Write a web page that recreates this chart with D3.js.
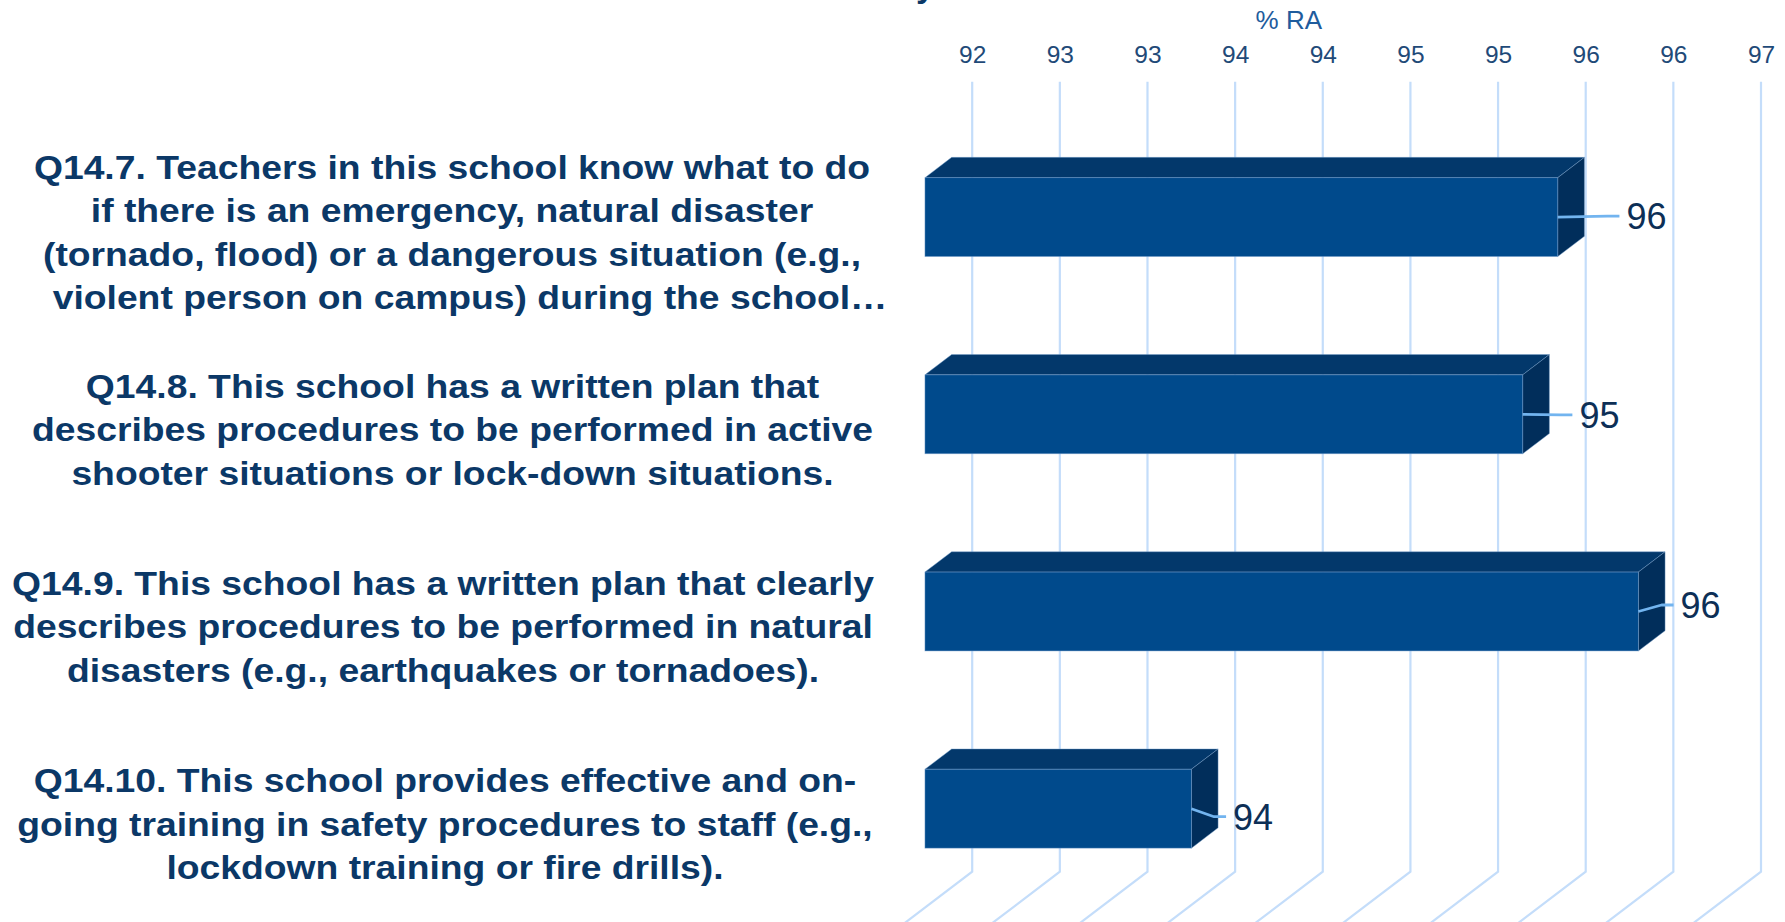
<!DOCTYPE html>
<html>
<head>
<meta charset="utf-8">
<script src="https://cdn.jsdelivr.net/npm/d3@7"></script>
<style>
  html, body { margin: 0; padding: 0; background: #ffffff; overflow: hidden; }
  svg { display: block; }
</style>
</head>
<body>
<svg id="chart" width="1785" height="922"></svg>
<script>
// ---- data ---------------------------------------------------------------
const categories = ["Q14.7", "Q14.8", "Q14.9", "Q14.10"];

// Item wording, wrapped into the lines shown beside each bar
const categoryText = [
  ["Q14.7. Teachers in this school know what to do",
   "if there is an emergency, natural disaster",
   "(tornado, flood) or a dangerous situation (e.g.,",
   "violent person on campus) during the school\u2026"],
  ["Q14.8. This school has a written plan that",
   "describes procedures to be performed in active",
   "shooter situations or lock-down situations."],
  ["Q14.9. This school has a written plan that clearly",
   "describes procedures to be performed in natural",
   "disasters (e.g., earthquakes or tornadoes)."],
  ["Q14.10. This school provides effective and on-",
   "going training in safety procedures to staff (e.g.,",
   "lockdown training or fire drills)."]
];

// Percent of respondents agreeing (% RA)
const values = [95.61, 95.41, 96.07, 93.52];

// Value axis
const tickValues = [92, 92.5, 93, 93.5, 94, 94.5, 95, 95.5, 96, 96.5];
const tickLabels = ["92", "93", "93", "94", "94", "95", "95", "96", "96", "97"];
const axisTitle = "% RA";

// ---- layout -------------------------------------------------------------
const W = 1785, H = 922;
const wall = { left: 972.2, right: 1761, top: 81.7, bottom: 871.7 };
const depth = { dx: 26.7, dy: -20.3 };   // one bar depth, oblique projection
const frontShift = 1.77;                 // bar front faces sit this many depths in front of the wall

// per-bar label placement: offset from the bar's back-right corner / face middle
const labelNudge = [
  { dx: 42, dy: -1 },
  { dx: 30, dy: 0.5 },
  { dx: 15.5, dy: -6.5 },
  { dx: 15, dy: 8 }
];
const labelCenterX = [452, 452.5, 443, 445];
const lineShift = [[0, 0, 0, 18], [0, 0, 0], [0, 0, 0], [0, 0, 0]];

const colors = {
  front: "#004a8c",
  top: "#03386b",
  side: "#012e5b",
  edge: "rgba(120,160,205,0.55)",
  grid: "#c4ddfa",
  leader: "#72b4ef",
  category: "#0b3867",
  tick: "#1f4a78",
  title: "#1f5c9d",
  value: "#0d2f56"
};
const fontFamily = "'Liberation Sans', Arial, Helvetica, sans-serif";

// ---- scales -------------------------------------------------------------
const x = d3.scaleLinear().domain([92, 96.5]).range([wall.left, wall.right]);
const y = d3.scaleBand()
  .domain(categories)
  .range([118.5, 907.3])
  .paddingInner(0.6)
  .paddingOuter(0.3);

const svg = d3.select("#chart");

// Chart title, running off the top edge
svg.append("text")
  .attr("x", 916).attr("y", -3)
  .attr("font-family", fontFamily).attr("font-weight", "bold")
  .attr("font-size", 34).attr("fill", colors.category)
  .text("y");

// ---- back wall gridlines and floor -------------------------------------
const fx = -frontShift * depth.dx; // shift wall -> bar front plane
const grid = svg.append("g").attr("class", "grid");
grid.selectAll("path")
  .data(tickValues)
  .join("path")
  .attr("d", t => {
    const gx = x(t);
    const p = d3.path();
    p.moveTo(gx, wall.top);
    p.lineTo(gx, wall.bottom);
    p.lineTo(gx - 4 * depth.dx, wall.bottom - 4 * depth.dy);
    return p.toString();
  })
  .attr("fill", "none")
  .attr("stroke", colors.grid)
  .attr("stroke-width", 2.2);

// ---- value axis (top) ---------------------------------------------------
const axis = d3.axisTop(x)
  .tickValues(tickValues)
  .tickSize(0)
  .tickPadding(0)
  .tickFormat((d, i) => tickLabels[i]);

const axisG = svg.append("g").attr("transform", "translate(0,63.3)").call(axis);
axisG.select(".domain").remove();
axisG.selectAll("text")
  .attr("dy", 0).attr("y", 0)
  .attr("font-family", fontFamily)
  .attr("font-size", 24.5)
  .attr("fill", colors.tick);

svg.append("text")
  .attr("x", 1288.8).attr("y", 29.3)
  .attr("text-anchor", "middle")
  .attr("font-family", fontFamily)
  .attr("font-size", 26)
  .attr("fill", colors.title)
  .text(axisTitle);

// ---- 3D bars ------------------------------------------------------------
const bars = svg.append("g").attr("class", "bars");
const rows = categories.map((c, i) => {
  const x0 = x(92) + fx;
  const x1 = x(values[i]) + fx;
  const y0 = y(c);
  const y1 = y0 + y.bandwidth();
  return { c, i, v: values[i], x0, x1, y0, y1 };
});

const poly = pts => "M" + pts.map(p => p.join(",")).join("L") + "Z";

const bar = bars.selectAll("g").data(rows).join("g");
bar.append("path") // top face
  .attr("d", r => poly([[r.x0, r.y0], [r.x1, r.y0], [r.x1 + depth.dx, r.y0 + depth.dy], [r.x0 + depth.dx, r.y0 + depth.dy]]))
  .attr("fill", colors.top)
  .attr("stroke", colors.edge).attr("stroke-width", 0.8);
bar.append("path") // end face
  .attr("d", r => poly([[r.x1, r.y0], [r.x1 + depth.dx, r.y0 + depth.dy], [r.x1 + depth.dx, r.y1 + depth.dy], [r.x1, r.y1]]))
  .attr("fill", colors.side)
  .attr("stroke", colors.edge).attr("stroke-width", 0.8);
bar.append("rect") // front face
  .attr("x", r => r.x0).attr("y", r => r.y0)
  .attr("width", r => r.x1 - r.x0).attr("height", r => r.y1 - r.y0)
  .attr("fill", colors.front)
  .attr("stroke", colors.edge).attr("stroke-width", 0.8);

// ---- data labels with leader lines -------------------------------------
const fmt = d3.format(".0f");
const labels = svg.append("g").attr("class", "labels");
rows.forEach(r => {
  const mid = (r.y0 + r.y1) / 2;
  const lx = r.x1 + depth.dx + labelNudge[r.i].dx;
  const ly = mid + labelNudge[r.i].dy;
  labels.append("path")
    .attr("d", poly([[r.x1, mid], [lx - 19, ly], [lx - 7, ly]]).replace("Z", ""))
    .attr("fill", "none")
    .attr("stroke", colors.leader)
    .attr("stroke-width", 2.8)
    .attr("stroke-linejoin", "round");
  labels.append("text")
    .attr("x", lx).attr("y", ly + 13)
    .attr("font-family", fontFamily)
    .attr("font-size", 36)
    .attr("fill", colors.value)
    .text(fmt(r.v));
});

// ---- category labels ----------------------------------------------------
const lineGap = 43.3;
const sx = 1.113;
const cats = svg.append("g").attr("class", "categories");
rows.forEach(r => {
  const lines = categoryText[r.i];
  const mid = (r.y0 + r.y1) / 2 + 27;
  const g = cats.append("g")
    .attr("transform", `translate(${labelCenterX[r.i]},0) scale(${sx},1)`);
  lines.forEach((t, k) => {
    g.append("text")
      .attr("x", lineShift[r.i][k] / sx)
      .attr("y", mid + (k - (lines.length - 1) / 2) * lineGap)
      .attr("text-anchor", "middle")
      .attr("font-family", fontFamily)
      .attr("font-weight", "bold")
      .attr("font-size", 33.5)
      .attr("fill", colors.category)
      .text(t);
  });
});
</script>
</body>
</html>
